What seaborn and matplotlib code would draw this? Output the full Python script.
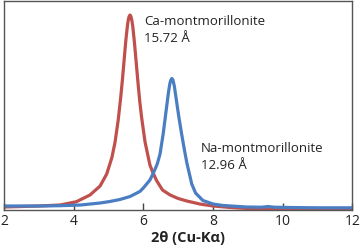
import matplotlib
matplotlib.use("Agg")
import matplotlib.pyplot as plt
import seaborn as sns
import pandas as pd

# Ca-montmorillonite pattern (2theta, intensity in arbitrary units)
ca_x = [2.0, 3.0, 3.61, 4.08, 4.47, 4.76, 4.95, 5.10, 5.19, 5.28, 5.35, 5.40, 5.45,
        5.50, 5.55, 5.58, 5.60, 5.62, 5.64, 5.67, 5.70, 5.75, 5.80, 5.85, 5.90, 5.95, 6.05,
        6.19, 6.26, 6.38, 6.55, 6.77, 7.0, 7.25, 7.62, 8.0, 8.5, 9.0, 10.0, 11.0, 12.0]
ca_y = [3, 4, 5, 8.3, 15, 24, 36, 52.6, 68, 90, 112, 130, 150,
        170, 186, 192, 194, 195, 194, 190, 183, 166, 146, 126.5, 108, 93, 68,
        45, 38.7, 29.5, 20, 15, 11.5, 9, 6, 4, 2.5, 1.5, 1, 1, 1]

# Na-montmorillonite pattern
na_x = [2.0, 3.0, 3.6, 4.2, 4.76, 5.04, 5.33, 5.62, 5.90, 6.00, 6.19, 6.29, 6.40,
        6.48, 6.57, 6.65, 6.72, 6.76, 6.79, 6.82, 6.85, 6.89, 6.94, 7.02, 7.10, 7.18, 7.25,
        7.39, 7.50, 7.71, 8.00, 8.29, 8.97, 9.40, 9.58, 9.75, 10.2, 11.0, 12.0]
na_y = [4, 4, 4.3, 5, 7, 8.5, 10.5, 13.5, 18.5, 22, 30, 37, 46,
        56, 76, 98, 117, 126, 130, 131.5, 130, 124, 112, 93, 76, 60, 47,
        26, 17, 9.5, 6, 4.5, 3, 2.8, 3.5, 2.8, 2.5, 2.2, 2.2]

xticks = [2, 4, 6, 8, 10, 12]
ca_label = ["Ca-montmorillonite", "15.72 Å"]
na_label = ["Na-montmorillonite", "12.96 Å"]
xlabel = "2θ (Cu-Kα)"

sns.set_style("white")
plt.rcParams["font.family"] = ["Open Sans", "DejaVu Sans"]

fig = plt.figure(figsize=(3.6, 2.48), dpi=100)
ax = fig.add_axes([3.9 / 360, 38 / 248, 348.5 / 360, 209.5 / 248])

red = "#C0504D"
blue = "#4A7EC2"
sns.lineplot(x=ca_x, y=ca_y, ax=ax, color=red, linewidth=2.3, sort=False)
sns.lineplot(x=na_x, y=na_y, ax=ax, color=blue, linewidth=2.3, sort=False)

ax.set_xlim(2, 12)
ax.set_ylim(0, 209.5)
ax.set_xticks(xticks)
ax.set_xticklabels([str(t) for t in xticks], fontsize=10, color="#222222")
ax.set_yticks([])
ax.tick_params(axis="x", direction="in", length=5, width=1, color="#444444", pad=3,
               bottom=True, top=False)
for s in ax.spines.values():
    s.set_visible(True)
    s.set_color("#555555")
    s.set_linewidth(1)

ax.set_xlabel(xlabel, fontsize=10.5, fontweight="bold", color="#222222", labelpad=3)
ax.xaxis.set_label_coords(0.527, -0.1)
ax.xaxis.label.set_va("top")

ax.text(6.03, 185, ca_label[0], fontsize=9.5, color="#222222", va="baseline")
ax.text(6.03, 168.3, ca_label[1], fontsize=9.5, color="#222222", va="baseline")
ax.text(7.65, 58.3, na_label[0], fontsize=9.5, color="#222222", va="baseline")
ax.text(7.65, 40.7, na_label[1], fontsize=9.5, color="#222222", va="baseline")

fig.savefig("out.png", dpi=100)
